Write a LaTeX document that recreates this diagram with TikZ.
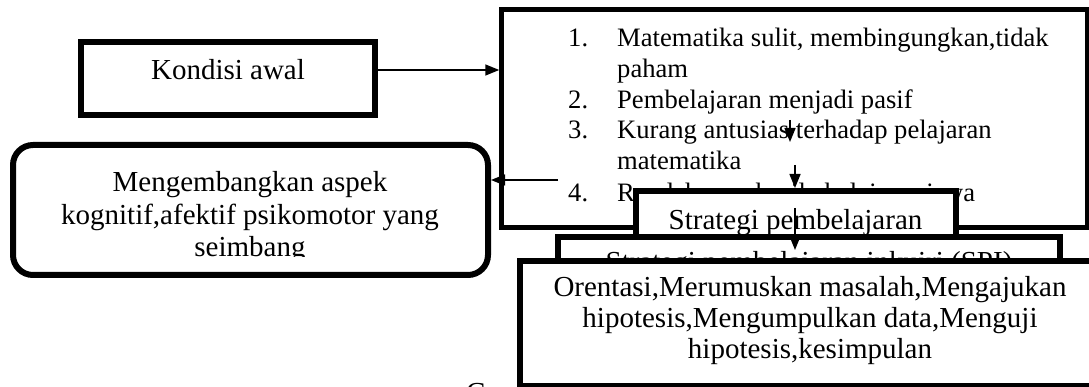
\documentclass[tikz,border=0pt]{standalone}
\usepackage{fontspec}
\setmainfont{Liberation Serif}
\usetikzlibrary{arrows.meta}
\begin{document}
\begin{tikzpicture}[x=1pt,y=-1pt,
  box/.style={draw, fill=white, inner sep=0pt, line width=6pt},
  bigtxt/.style={font=\fontsize{29}{33}\selectfont, inner sep=0pt},
  smalltxt/.style={font=\fontsize{26.6}{30.6}\selectfont, inner sep=0pt},
  arr/.style={line width=1.5pt, -{Triangle[length=14pt,width=11pt]}}]
\useasboundingbox (0,0) rectangle (1089,387);
\clip (0,0) rectangle (1089,387);
% Kondisi awal
\node[box, minimum width=294pt, minimum height=73pt] (kondisi) at (228,78.5) {};
\node[bigtxt, anchor=base] (kondisiT) at (228,80) {Kondisi awal};
% Tujuan (rounded)
\node[box, rounded corners=20pt, minimum width=475pt, minimum height=130pt] (tujuan) at (250.5,210) {};
\node[bigtxt, anchor=base] (tj1) at (250,192) {Mengembangkan aspek};
\node[bigtxt, anchor=base] (tj2) at (250,225) {kognitif,afektif psikomotor yang};
\begin{scope}
  \clip (13,150) rectangle (488,257);
  \node[bigtxt, anchor=base] (tj3) at (250,257) {seimbang};
\end{scope}
% Masalah list box
\node[box, line width=4.5pt, minimum width=585.5pt, minimum height=218pt] (list) at (794.25,118.5) {};
\node[smalltxt, anchor=base west] (n1) at (568,47) {1.};
\node[smalltxt, anchor=base west] (l1) at (617,47) {Matematika sulit, membingungkan,tidak};
\node[smalltxt, anchor=base west] (l1b) at (617,77.6) {paham};
\node[smalltxt, anchor=base west] (n2) at (568,108.2) {2.};
\node[smalltxt, anchor=base west] (l2) at (617,108.2) {Pembelajaran menjadi pasif};
\node[smalltxt, anchor=base west] (n3) at (568,138.8) {3.};
\node[smalltxt, anchor=base west] (l3) at (617,138.8) {Kurang antusias terhadap pelajaran};
\node[smalltxt, anchor=base west] (l3b) at (617,169.4) {matematika};
\node[smalltxt, anchor=base west] (n4) at (568,201.5) {4.};
\node[smalltxt, anchor=base west] (l4) at (617,201.5) {\makebox[358pt][s]{Rendahnya hasil belajar siswa}};
% connectors
\coordinate (y70) at (0,70);
\draw[arr] (kondisi.east |- y70) -- (list.west |- y70);
\coordinate (fb) at (558,180);
\draw[arr] (fb) -- (tujuan.east |- fb);
\coordinate (a1s) at (790,120);
\coordinate (a1e) at (790,142);
\draw[arr] (a1s) -- (a1e);
\coordinate (a2s) at (795,165);
% Strategi
\node[box, minimum width=320pt, minimum height=59pt] (strategi) at (796,220.5) {};
\draw[arr] (a2s) -- (a2s |- strategi.north);
\node[bigtxt, anchor=base] (strategiT) at (795.5,230) {Strategi pembelajaran};
% SPI
\node[box, minimum width=502pt, minimum height=63pt] (spi) at (809,268.5) {};
\node[bigtxt, anchor=base] (spiT) at (809,272) {Strategi pembelajaran inkuiri (SPI)};
% Orentasi
\node[box, minimum width=580pt, minimum height=125pt] (langkah) at (810,323.5) {};
\node[bigtxt, anchor=base] (lk1) at (810,296) {Orentasi,Merumuskan masalah,Mengajukan};
\node[bigtxt, anchor=base] (lk2) at (810,327) {hipotesis,Mengumpulkan data,Menguji};
\node[bigtxt, anchor=base] (lk3) at (810,358) {hipotesis,kesimpulan};
% arrow 3
\coordinate (a3s) at (795,208);
\coordinate (a3e) at (795,250);
\draw[arr] (a3s) -- (a3e);
% caption fragment
\node[bigtxt, anchor=north west] (cap) at (466,383) {C};
\end{tikzpicture}
\end{document}
